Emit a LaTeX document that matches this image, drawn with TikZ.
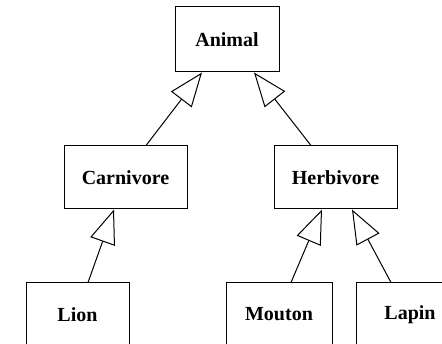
\documentclass[tikz,border=0pt]{standalone}
\usepackage{fontspec}
\setmainfont{Liberation Serif}
\usetikzlibrary{arrows.meta}
\tikzset{
  cls/.style={draw, line width=1pt, minimum height=63pt, inner sep=0pt,
    font=\fontsize{20}{24}\selectfont\bfseries},
  inh/.style={draw, line width=1pt, -{Triangle[open, length=34pt, width=26pt, fill=white]}}
}
\begin{document}
\begin{tikzpicture}[x=1pt,y=-1pt]
\useasboundingbox (0,0) rectangle (442,344);
\clip (0,0) rectangle (442,344);
\node[cls, minimum width=104pt, minimum height=65pt] (animal) at (227,39.5) {Animal};
\node[cls, minimum width=123pt] (carnivore) at (125.5,177.5) {Carnivore};
\node[cls, minimum width=123pt] (herbivore) at (335.5,177.5) {Herbivore};
\node[cls, minimum width=103pt] (lion) at (77.5,314.5) {Lion};
\node[cls, minimum width=106pt] (mouton) at (279,314.5) {Mouton};
\node[cls, minimum width=108pt] (lapin) at (410,314.5) {Lapin};
\draw[inh] ([xshift=20.5pt]carnivore.north) -- ([xshift=-25pt]animal.south);
\draw[inh] ([xshift=-24.5pt]herbivore.north) -- ([xshift=27pt]animal.south);
\draw[inh] ([xshift=10.5pt]lion.north) -- ([xshift=-11.5pt]carnivore.south);
\draw[inh] ([xshift=12pt]mouton.north) -- ([xshift=-13.5pt]herbivore.south);
\draw[inh] ([xshift=-19pt]lapin.north) -- ([xshift=16.5pt]herbivore.south);
\end{tikzpicture}
\end{document}
